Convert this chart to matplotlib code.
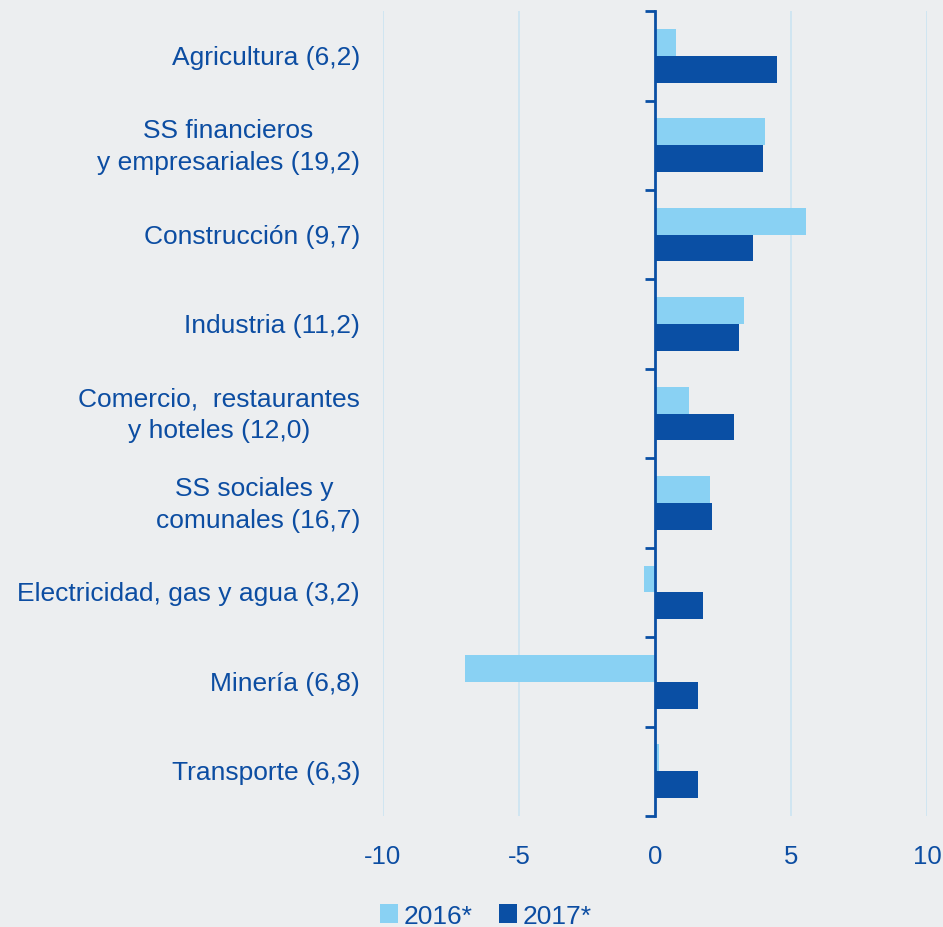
import matplotlib.pyplot as plt
import numpy as np
from matplotlib.transforms import blended_transform_factory

plt.rcParams['font.family'] = ['Liberation Sans', 'DejaVu Sans']

# Sector labels (weight in parentheses) and growth values
sectors = [
    'Agricultura (6,2)',
    'SS financieros\ny empresariales (19,2)',
    'Construcción (9,7)',
    'Industria (11,2)',
    'Comercio,  restaurantes\ny hoteles (12,0)',
    'SS sociales y \ncomunales (16,7)',
    'Electricidad, gas y agua (3,2)',
    'Minería (6,8)',
    'Transporte (6,3)',
]
vals_2016 = [0.76, 4.05, 5.56, 3.27, 1.27, 2.03, -0.39, -6.98, 0.15]
vals_2017 = [4.49, 3.98, 3.62, 3.08, 2.91, 2.09, 1.77, 1.59, 1.59]
series_names = ['2016*', '2017*']
xticks = [-10, -5, 0, 5, 10]

bg = '#ECEEF0'
light = '#89D1F3'
dark = '#0A4FA4'
txt = '#0C4DA2'
grid_c = '#CBE4F2'

fig = plt.figure(figsize=(9.43, 9.28), dpi=100, facecolor=bg)
ax = fig.add_axes([0.406, 0.1196, 0.577, 0.8674])
ax.set_facecolor(bg)

y = np.arange(len(sectors))
h = 0.3
ax.barh(y - h / 2, vals_2016, height=h, color=light, label=series_names[0], zorder=2)
ax.barh(y + h / 2, vals_2017, height=h, color=dark, label=series_names[1], zorder=2)

ax.set_xlim(-10, 10)
ax.set_ylim(len(sectors) - 0.5, -0.5)

# vertical gridlines
for xv in xticks:
    if xv != 0:
        ax.axvline(xv, color=grid_c, lw=1.2, zorder=0)

for s in ['top', 'right', 'bottom']:
    ax.spines[s].set_visible(False)
ax.spines['left'].set_position(('data', 0))
ax.spines['left'].set_color(dark)
ax.spines['left'].set_linewidth(2)
ax.spines['left'].set_zorder(3)

ax.set_yticks(np.arange(-0.5, len(sectors), 1))
ax.set_yticklabels([])
ax.tick_params(axis='y', length=7, width=2, color=dark, direction='out')

ax.set_xticks(xticks)
ax.set_xticklabels([str(v) for v in xticks])
ax.tick_params(axis='x', length=0, pad=20, labelsize=18.5, labelcolor=txt)

trans = blended_transform_factory(ax.transAxes, ax.transData)
for yi, lab in zip(y, sectors):
    ax.text(-0.042, yi + 0.01, lab, transform=trans, ha='right', va='center',
            multialignment='center', fontsize=19, color=txt, linespacing=1.4)

fig.legend(loc='center', bbox_to_anchor=(0.515, 0.012), ncol=2, frameon=False,
           fontsize=19, labelcolor=txt, handlelength=0.7, handleheight=0.7,
           handletextpad=0.2, columnspacing=1.0)

plt.savefig('out.png', dpi=100, facecolor=bg)
